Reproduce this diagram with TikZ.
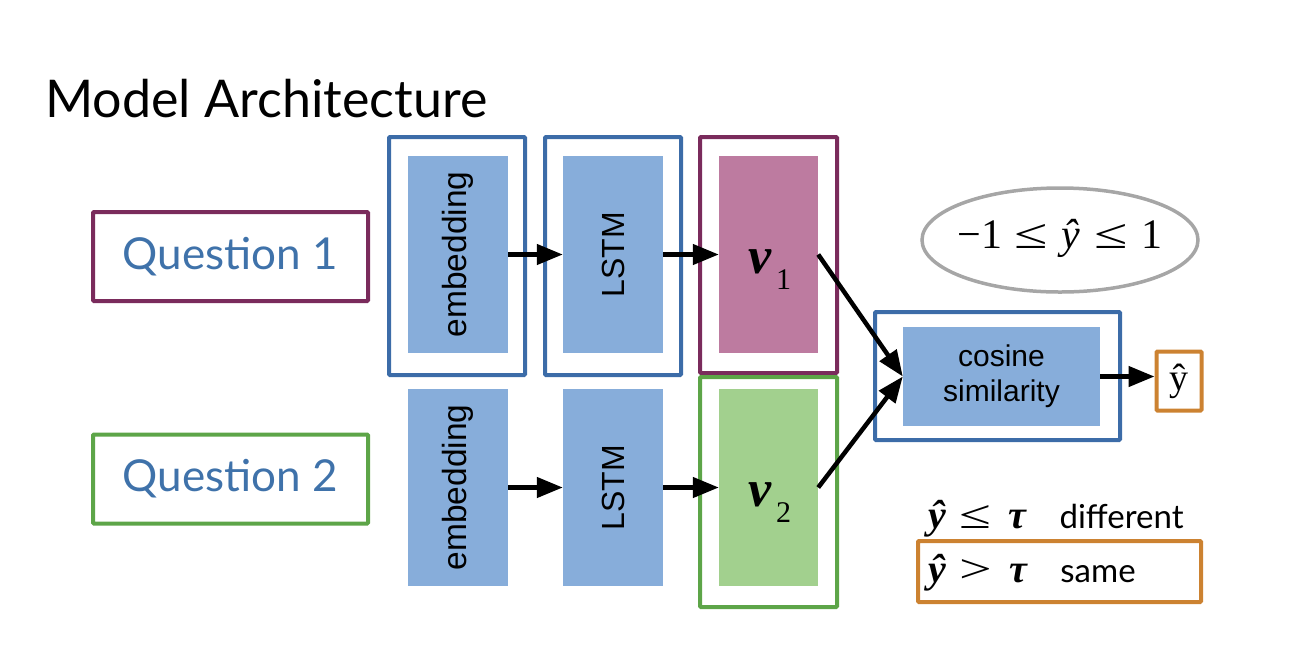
\documentclass[tikz,border=0pt]{standalone}
\usepackage{fontspec}
\setmainfont{Lato}
\newfontfamily\blockfont{Liberation Sans}
\newfontfamily\seriffont{Liberation Serif}
\usetikzlibrary{arrows.meta,shapes.geometric}

\definecolor{frameblue}{RGB}{60,108,168}
\definecolor{fillblue}{RGB}{135,173,218}
\definecolor{framepurple}{RGB}{122,43,92}
\definecolor{fillpink}{RGB}{189,123,160}
\definecolor{framegreen}{RGB}{93,165,72}
\definecolor{fillgreen}{RGB}{162,208,142}
\definecolor{frameorange}{RGB}{204,130,49}
\definecolor{framegray}{RGB}{166,166,166}
\definecolor{qblue}{RGB}{63,114,170}

\newcommand{\fs}[1]{\fontsize{#1}{1.2\dimexpr#1pt\relax}\selectfont}
\newcommand{\wide}[1]{\scalebox{1.45}[1]{#1}}
\newcommand{\mvar}[1]{{\seriffont\bfseries\itshape\fs{40}#1}}
\newcommand{\mrel}[1]{{\seriffont\fs{40}\wide{#1}}}

\begin{document}
\begin{tikzpicture}[x=1pt,y=-1pt,
  frame/.style={draw=#1, line width=4pt, inner sep=0pt, rounded corners=1pt},
  block/.style={fill=#1, draw=none, inner sep=0pt, minimum width=100pt, minimum height=197pt},
  arr/.style={line width=4.5pt, -{Triangle[length=26pt,width=20pt]}},
  vlabel/.style={font=\seriffont\bfseries\itshape\fs{52}},
]
\useasboundingbox (0,0) rectangle (1306,649);

% heading
\node[anchor=base west, inner sep=0pt, font=\fs{52}] (title) at (45,117) {Model Architecture};

% the two questions
\node[frame=framepurple, minimum width=275pt, minimum height=89pt, text=qblue, font=\fs{44}]
  (q1) at (230.5,256.5) {\raisebox{-3pt}{Question 1}};
\node[frame=framegreen, minimum width=275pt, minimum height=89pt, text=qblue, font=\fs{44}]
  (q2) at (230.5,479) {\raisebox{-3pt}{Question 2}};

% upper branch
\node[frame=frameblue, minimum width=136pt, minimum height=238pt] (e1f) at (457,256) {};
\node[frame=frameblue, minimum width=136pt, minimum height=238pt] (l1f) at (613,256) {};
\node[frame=framepurple, minimum width=137pt, minimum height=236pt] (v1f) at (768.5,255) {};
\node[block=fillblue] (e1) at (458,254.5) {};
\node[rotate=90, font=\blockfont\fs{33.5}] at (e1.center) {embedding};
\node[block=fillblue] (l1) at (613,254.5) {};
\node[rotate=90, font=\blockfont\fs{32}] at (l1.center) {LSTM};
\node[block=fillpink, minimum width=99pt] (v1) at (768.5,254.5) {};
\node[vlabel, anchor=base west, inner sep=0pt] (v1t) at (748,273) {v};
\node[anchor=base west, inner sep=0pt, font=\seriffont\fs{30}] (v1s) at (776,289) {1};

% lower branch
\node[frame=framegreen, minimum width=137pt, minimum height=230pt] (v2f) at (768.5,492) {};
\node[block=fillblue] (e2) at (458,487.5) {};
\node[rotate=90, font=\blockfont\fs{33.5}] at (e2.center) {embedding};
\node[block=fillblue] (l2) at (613,487.5) {};
\node[rotate=90, font=\blockfont\fs{32}] at (l2.center) {LSTM};
\node[block=fillgreen, minimum width=99pt] (v2) at (768.5,487.5) {};
\node[vlabel, anchor=base west, inner sep=0pt] (v2t) at (748,506) {v};
\node[anchor=base west, inner sep=0pt, font=\seriffont\fs{30}] (v2s) at (776,522) {2};

% similarity and output
\node[frame=frameblue, minimum width=245pt, minimum height=128pt] (csf) at (997.5,376) {};
\node[block=fillblue, minimum width=197pt, minimum height=99pt, align=center,
  font=\blockfont\fs{30}] (cs) at (1001.5,376.5) {cosine\\[-1pt]similarity};
\node[frame=frameorange, minimum width=45pt, minimum height=59pt, font=\seriffont\fs{38}]
  (yh) at (1179,381) {\raisebox{1pt}{ŷ}};

% range of the output
\node[ellipse, draw=framegray, line width=3.5pt, minimum width=276pt, minimum height=104pt,
  inner sep=0pt] (range) at (1060,240) {};
\node[inner sep=0pt, font=\seriffont\fs{42}] (rangetext) at ([yshift=2pt]range.center)
  {−1\hspace{12pt}\wide{≤}\hspace{14pt}{\itshape ŷ}\hspace{14pt}\wide{≤}\hspace{14pt}1};

% decision rule
\node[anchor=base west, inner sep=0pt] (rdiff) at (928,528)
  {\mvar{ŷ}\hspace{14pt}\mrel{≤}\hspace{17pt}\mvar{τ}\hspace{33pt}{\fs{33}different}};
\node[frame=frameorange, minimum width=283pt, minimum height=61pt] (same) at (1059.5,571.5) {};
\node[anchor=base west, inner sep=0pt] (rsame) at (928,582)
  {\mvar{ŷ}\hspace{14pt}\mrel{>}\hspace{17pt}\mvar{τ}\hspace{33pt}{\fs{33}same}};

% connectors
\draw[arr] (e1.east) -- (l1.west);
\draw[arr] (l1.east) -- (v1.west);
\draw[arr] (e2.east) -- (l2.west);
\draw[arr] (l2.east) -- (v2.west);
\draw[arr] (v1.east) -- (cs.west);
\draw[arr] (v2.east) -- (cs.west);
\draw[arr] (cs.east) -- (cs.east -| yh.west);
\end{tikzpicture}
\end{document}
